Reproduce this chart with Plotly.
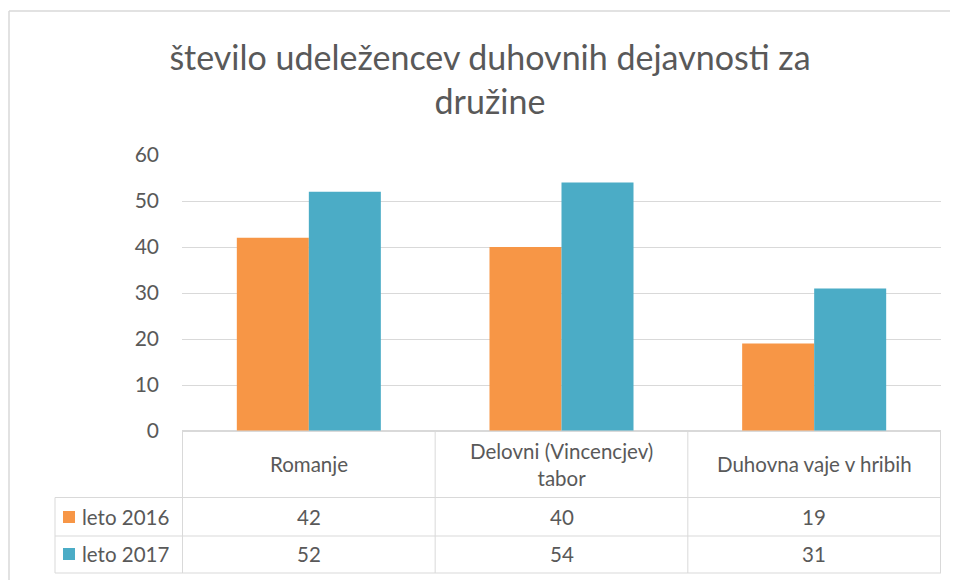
import plotly.graph_objects as go

# ---- data ----
categories = ["Romanje", "Delovni (Vincencjev) tabor", "Duhovna vaje v hribih"]
category_labels = ["Romanje", "Delovni (Vincencjev)<br>tabor", "Duhovna vaje v hribih"]
series_names = ["leto 2016", "leto 2017"]
values_2016 = [42, 40, 19]
values_2017 = [52, 54, 31]
y_ticks = [0, 10, 20, 30, 40, 50, 60]
title_text = "število udeležencev duhovnih dejavnosti za<br>družine"

# ---- style ----
OFF = 8                      # page body margin of the html page
W, H = 958 - OFF, 580 - OFF  # figure size
L, R, T, B = 182, 941, 155, 431   # plot area in page pixels
colors = ["#F79646", "#4BACC6"]
txt = "#595959"
grid = "#D9D9D9"
font = "Lato, 'Open Sans', sans-serif"


def px(x):
    return (x - L) / (R - L)


def py(y):
    return (B - y) / (B - T)


fig = go.Figure()
series_values = [values_2016, values_2017]
for name, vals, col in zip(series_names, series_values, colors):
    fig.add_trace(go.Bar(x=categories, y=vals, name=name, marker=dict(color=col, line=dict(width=0))))

shapes = []
line = dict(color=grid, width=1)
# outer chart border (top and left visible)
shapes.append(dict(type="line", xref="paper", yref="paper", x0=px(9), x1=px(970), y0=py(11), y1=py(11),
                   line=dict(color=grid, width=1.5)))
shapes.append(dict(type="line", xref="paper", yref="paper", x0=px(9), x1=px(9), y0=py(11), y1=py(590),
                   line=dict(color=grid, width=1.5)))
# data table horizontal lines
row_y = [497.5, 536, 573]
for yy in row_y:
    shapes.append(dict(type="line", xref="paper", yref="paper", x0=px(55), x1=px(R), y0=py(yy), y1=py(yy), line=line))
shapes.append(dict(type="line", xref="paper", yref="paper", x0=0, x1=1, y0=0, y1=0, line=line))
# vertical column boundaries on the category scale
for i in range(len(categories) + 1):
    shapes.append(dict(type="line", xref="x", yref="paper", x0=i - 0.5, x1=i - 0.5, y0=py(B), y1=py(573), line=line))
shapes.append(dict(type="line", xref="paper", yref="paper", x0=px(55), x1=px(55), y0=py(497.5), y1=py(573), line=line))

annotations = []
tfont = dict(family=font, size=20.5, color=txt)
# header row
for i, lab in enumerate(category_labels):
    annotations.append(dict(x=i, y=py(464), xref="x", yref="paper", text=lab, showarrow=False,
                            font=tfont, xanchor="center", yanchor="middle"))
# value rows
row_centers = [517, 554]
for r, (name, vals, col) in enumerate(zip(series_names, series_values, colors)):
    yc = row_centers[r]
    for i, v in enumerate(vals):
        annotations.append(dict(x=i, y=py(yc), xref="x", yref="paper", text=str(v), showarrow=False,
                                font=tfont, xanchor="center", yanchor="middle"))
    annotations.append(dict(x=px(80), y=py(yc), xref="paper", yref="paper", text=name, showarrow=False,
                            font=tfont, xanchor="left", yanchor="middle"))
    shapes.append(dict(type="rect", xref="paper", yref="paper", x0=px(63), x1=px(75), y0=py(yc - 6), y1=py(yc + 6),
                       fillcolor=col, line=dict(width=0)))

fig.update_layout(
    width=W, height=H,
    margin=dict(l=L - OFF, r=W - (R - OFF), t=T - OFF, b=H - (B - OFF), pad=0),
    paper_bgcolor="white", plot_bgcolor="white",
    showlegend=False,
    barmode="group", bargap=0.43, bargroupgap=0,
    title=dict(text=title_text, x=(490 - OFF) / W, xanchor="center", y=1 - (69.5 - OFF) / H, yanchor="middle",
               yref="container", xref="container",
               font=dict(family=font, size=34, color=txt)),
    xaxis=dict(showticklabels=False, ticks="", showgrid=False, zeroline=False, showline=False),
    yaxis=dict(range=[0, 60], tickvals=y_ticks, showgrid=True, gridcolor=grid, gridwidth=1,
               zeroline=True, zerolinecolor=grid, showline=False, ticks="", ticklabelstandoff=22,
               tickfont=dict(family=font, size=21, color=txt)),
    shapes=shapes,
    annotations=annotations,
)

fig.write_html("out.html")
